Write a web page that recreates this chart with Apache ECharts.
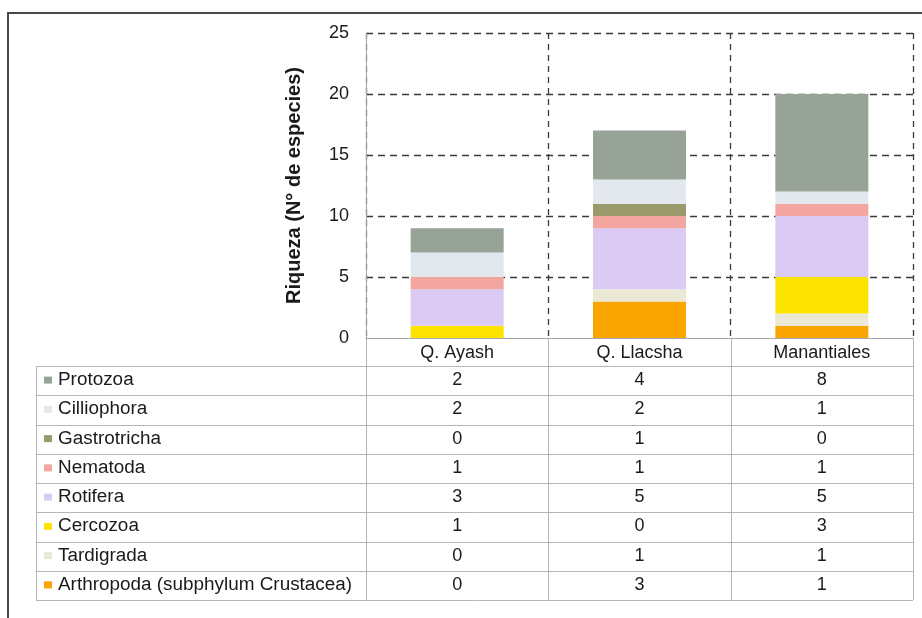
<!DOCTYPE html>
<html>
<head>
<meta charset="utf-8">
<script src="https://cdn.jsdelivr.net/npm/echarts@6/dist/echarts.min.js"></script>
<style>
html,body{margin:0;padding:0;background:#fff;}
#main{width:922px;height:618px;}
</style>
</head>
<body>
<div id="main"></div>
<script>
// ---- data ----
const categories = ['Q. Ayash', 'Q. Llacsha', 'Manantiales'];
const yTicks = [0, 5, 10, 15, 20, 25];
const yAxisTitle = 'Riqueza (N° de especies)';
// stack order: bottom -> top
const seriesNames = ['Arthropoda (subphylum Crustacea)', 'Tardigrada', 'Cercozoa', 'Rotifera', 'Nematoda', 'Gastrotricha', 'Cilliophora', 'Protozoa'];
const arthropoda = [0, 3, 1];
const tardigrada = [0, 1, 1];
const cercozoa = [1, 0, 3];
const rotifera = [3, 5, 5];
const nematoda = [1, 1, 1];
const gastrotricha = [0, 1, 0];
const cilliophora = [2, 2, 1];
const protozoa = [2, 4, 8];
const seriesValues = [arthropoda, tardigrada, cercozoa, rotifera, nematoda, gastrotricha, cilliophora, protozoa];
const seriesColors = ['#fba600', '#ebe8d6', '#fde300', '#dacaf4', '#f3a5a0', '#9b9a6c', '#e3e7ee', '#97a396'];

// ---- layout ----
const G = {left: 366, right: 9, top: 33, bottom: 280};
const W = 922, H = 618;
const font = 'Liberation Sans, Arial, sans-serif';

const chart = echarts.init(document.getElementById('main'), null, {renderer: 'canvas'});

const series = seriesNames.map((n, i) => ({
  name: n,
  type: 'bar',
  stack: 'total',
  barWidth: 93,
  data: seriesValues[i],
  itemStyle: {color: seriesColors[i]},
  z: 3
}));

chart.setOption({
  animation: false,
  backgroundColor: '#fff',
  textStyle: {fontFamily: font},
  grid: {left: G.left, right: G.right, top: G.top, bottom: G.bottom},
  xAxis: {
    type: 'category',
    data: categories,
    axisLine: {show: true, lineStyle: {color: '#a4a4ac', width: 1}},
    axisTick: {show: false},
    axisLabel: {fontSize: 18, color: '#1a1a1a', margin: 6, fontFamily: font},
    splitLine: {show: true, lineStyle: {type: [6, 5], color: '#3a3a3a', width: 1.3}}
  },
  yAxis: {
    type: 'value',
    min: yTicks[0],
    max: yTicks[yTicks.length - 1],
    interval: yTicks[1] - yTicks[0],
    axisLine: {show: true, lineStyle: {color: '#a4a4ac', width: 1}},
    axisTick: {show: false},
    axisLabel: {fontSize: 18, color: '#1a1a1a', margin: 17, fontFamily: font},
    splitLine: {show: true, showMinLine: false, lineStyle: {type: [7, 5], color: '#3a3a3a', width: 1.3}},
    name: yAxisTitle,
    nameLocation: 'middle',
    nameGap: 62,
    nameTextStyle: {fontWeight: 'bold', fontSize: 20, color: '#1a1a1a', fontFamily: font}
  },
  series: series
});

// ---- data table below the chart ----
const tableLeft = 36;
const plotLeft = G.left;
const plotRight = W - G.right;
const plotBottom = H - G.bottom;
const headerBottom = 366;
const rowH = 29.25;
const nRows = seriesNames.length;
const tableBottom = headerBottom + rowH * nRows;
const band = (plotRight - plotLeft) / categories.length;
const lineColor = '#b4b4bc';

const g = [];
// frame
g.push({type: 'rect', shape: {x: 8, y: 13, width: W, height: H}, style: {fill: null, stroke: '#4a4a44', lineWidth: 2}, silent: true});
// horizontal lines
for (let k = 0; k <= nRows; k++) {
  const y = Math.round(headerBottom + k * rowH) + 0.5;
  g.push({type: 'line', shape: {x1: tableLeft, y1: y, x2: plotRight, y2: y}, style: {stroke: lineColor, lineWidth: 1}, silent: true});
}
// vertical lines
g.push({type: 'line', shape: {x1: tableLeft + 0.5, y1: headerBottom, x2: tableLeft + 0.5, y2: tableBottom}, style: {stroke: lineColor, lineWidth: 1}, silent: true});
for (let c = 0; c <= categories.length; c++) {
  const x = Math.round(plotLeft + c * band) + 0.5;
  g.push({type: 'line', shape: {x1: x, y1: plotBottom, x2: x, y2: tableBottom}, style: {stroke: lineColor, lineWidth: 1}, silent: true});
}
// rows: top-down reverse of stack order
for (let r = 0; r < nRows; r++) {
  const si = nRows - 1 - r;
  const cy = headerBottom + r * rowH + rowH / 2 - 0.5;
  g.push({type: 'rect', shape: {x: 44, y: cy - 3.5, width: 8, height: 7}, style: {fill: seriesColors[si]}, silent: true});
  g.push({type: 'text', x: 58, y: cy, scaleX: 1.05, style: {text: seriesNames[si], fontSize: 18, fontFamily: font, fill: '#1a1a1a', verticalAlign: 'middle', align: 'left'}, silent: true});
  for (let c = 0; c < categories.length; c++) {
    const cx = chart.convertToPixel({xAxisIndex: 0}, categories[c]);
    g.push({type: 'text', x: cx, y: cy, style: {text: String(seriesValues[si][c]), fontSize: 18, fontFamily: font, fill: '#1a1a1a', verticalAlign: 'middle', align: 'center'}, silent: true});
  }
}
chart.setOption({graphic: g});
</script>
</body>
</html>
